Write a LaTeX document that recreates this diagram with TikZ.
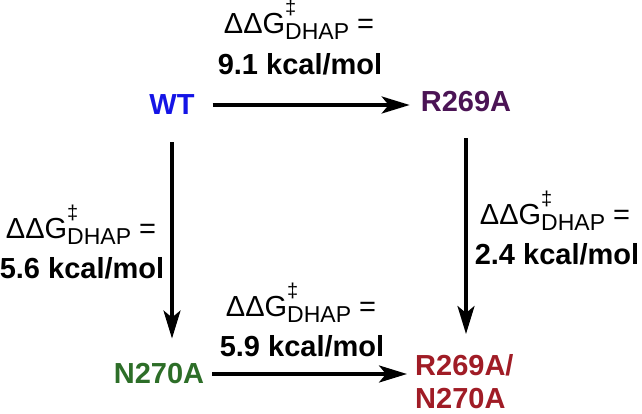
\documentclass[tikz,border=0pt]{standalone}
\usepackage{fontspec}
\setmainfont{Liberation Sans}
\usetikzlibrary{arrows.meta,positioning}
\definecolor{wtblue}{RGB}{20,20,230}
\definecolor{rpurple}{RGB}{75,20,85}
\definecolor{ngreen}{RGB}{45,110,40}
\definecolor{dblred}{RGB}{160,28,38}

\newcommand{\ddgdhap}{{\fontsize{29}{29}\selectfont ΔΔG\rlap{\raisebox{19pt}{\fontsize{20}{20}\selectfont ‡}}\raisebox{-6pt}{\fontsize{23}{23}\selectfont DHAP} =}}

\tikzset{
  enzyme/.style={inner sep=0pt, font=\fontsize{29}{33}\selectfont\bfseries},
  ddgline/.style={anchor=base, inner sep=0pt},
  kcalline/.style={anchor=base, inner sep=0pt, font=\fontsize{29}{29}\selectfont\bfseries},
  pathway/.style={line width=3.5pt, -{Stealth[length=28pt,width=17pt,inset=7pt]}}
}

\begin{document}
\begin{tikzpicture}[x=1pt, y=-1pt]
\useasboundingbox (0,0) rectangle (642,414);

% ----------------------
% Enzyme variants
% ----------------------
\node[enzyme, text=wtblue] (wt) at (172,105) {WT};
\node[enzyme, text=rpurple] (r269a) at (466,102) {R269A};
\node[enzyme, text=ngreen] (n270a) at (159,374) {N270A};
\node[enzyme, text=dblred, align=left, anchor=north west] (dbl) at (415,354) {R269A/\\N270A};

% ----------------------
% Mutation arrows
% ----------------------
\draw[pathway, shorten <=18pt, shorten >=11pt] (wt.east) -- (wt.east -| r269a.west);
\draw[pathway, shorten <=27pt, shorten >=25pt] (wt.south) -- (wt.south |- n270a.north);
\draw[pathway, shorten <=26pt, shorten >=20pt] (r269a.south) -- (r269a.south |- dbl.north);
\draw[pathway, shorten <=8pt, shorten >=8pt] (n270a.east) -- (n270a.east -| dbl.west);

% ----------------------
% Free energy labels
% ----------------------
\node[ddgline] (ddgtop) at (299,34) {\ddgdhap};
\node[kcalline] (kcaltop) at (300,75) {9.1 kcal/mol};

\node[ddgline] (ddgleft) at (81,238) {\ddgdhap};
\node[kcalline] (kcalleft) at (82,278) {5.6 kcal/mol};

\node[ddgline] (ddgright) at (555,224) {\ddgdhap};
\node[kcalline] (kcalright) at (557,264) {2.4 kcal/mol};

\node[ddgline] (ddgbot) at (301,316) {\ddgdhap};
\node[kcalline] (kcalbot) at (302,356) {5.9 kcal/mol};

\end{tikzpicture}
\end{document}
